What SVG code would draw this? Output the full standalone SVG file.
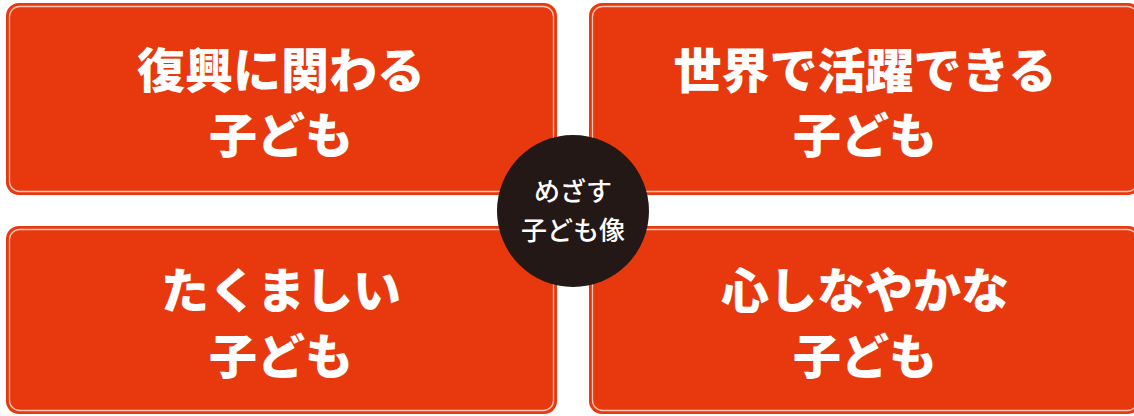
<svg xmlns="http://www.w3.org/2000/svg" width="1134" height="416" viewBox="0 0 1134 416">
<style>
.box{fill:#E8380D;}
.inner{fill:none;stroke:#F9C6B4;stroke-width:1.3;}
.t{font-family:"Noto Sans CJK JP","Noto Sans",sans-serif;font-weight:900;font-size:48px;fill:#FFFFFF;text-anchor:middle;}
.c{font-family:"Noto Sans CJK JP","Noto Sans",sans-serif;font-weight:500;font-size:26px;fill:#FFFFFF;text-anchor:middle;}
</style>
<rect width="1134" height="416" fill="#FFFFFF"/>
<g id="node-fukko">
<rect class="box" x="6" y="3" width="551" height="192" rx="13"/>
<rect class="inner" x="9.5" y="6.5" width="544" height="185" rx="10"/>
<text class="t" x="281" y="88">復興に関わる</text>
<text class="t" x="281" y="153">子ども</text>
</g>
<g id="node-sekai">
<rect class="box" x="589" y="3" width="552" height="192" rx="13"/>
<rect class="inner" x="592.5" y="6.5" width="545" height="185" rx="10"/>
<text class="t" x="865" y="88">世界で活躍できる</text>
<text class="t" x="865" y="153">子ども</text>
</g>
<g id="node-takumashii">
<rect class="box" x="6" y="226" width="551" height="188" rx="13"/>
<rect class="inner" x="9.5" y="229.5" width="544" height="181" rx="10"/>
<text class="t" x="281" y="308">たくましい</text>
<text class="t" x="281" y="374">子ども</text>
</g>
<g id="node-kokoro">
<rect class="box" x="589" y="226" width="552" height="188" rx="13"/>
<rect class="inner" x="592.5" y="229.5" width="545" height="181" rx="10"/>
<text class="t" x="865" y="308">心しなやかな</text>
<text class="t" x="865" y="374">子ども</text>
</g>
<g id="connectors"></g>
<g id="node-center">
<circle cx="573" cy="211" r="76" fill="#231815"/>
<text class="c" x="573" y="201">めざす</text>
<text class="c" x="573" y="240">子ども像</text>
</g>
</svg>
